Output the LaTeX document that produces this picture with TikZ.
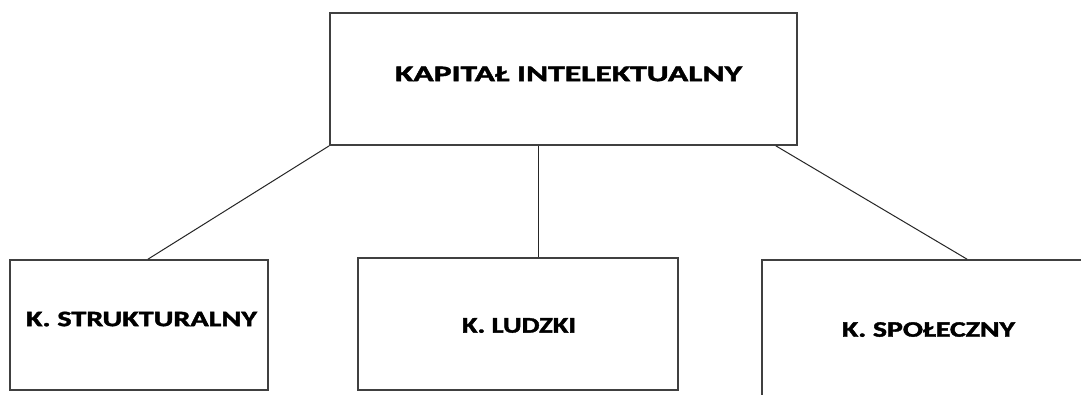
\documentclass[tikz,border=0pt]{standalone}
\usepackage{fontspec}
\usepackage{graphicx}
\setmainfont{Carlito}
\newfontfamily\lblfont{Carlito}[BoldFeatures={FakeBold=1.6}]
% label text: bold, stretched to a given width with a fixed cap height
\newcommand{\boxlabel}[2]{\resizebox{#1}{14.5pt}{\lblfont\bfseries #2}}
\begin{document}
\begin{tikzpicture}[x=1pt,y=-1pt,
  frame/.style={draw=black!75,line width=1.7pt,rectangle,inner sep=0pt},
  link/.style={draw=black!85,line width=1pt},
  lbl/.style={inner sep=0pt,anchor=center}]
\useasboundingbox (0,0) rectangle (1081,394);
\clip (0,0) rectangle (1081,394);
\fill[white] (0,0) rectangle (1081,394);

% boxes
\node[frame,minimum width=467pt,minimum height=132pt] (T) at (563.5,79) {};
\node[frame,minimum width=258pt,minimum height=130pt] (L) at (139,325) {};
\node[frame,minimum width=320pt,minimum height=132pt] (M) at (518,324) {};
\node[frame,minimum width=338pt,minimum height=150pt] (R) at (931,335) {};

% texts
\node[lbl] (tT) at (568.5,74) {\boxlabel{347pt}{KAPITAŁ INTELEKTUALNY}};
\node[lbl] (tL) at (141.5,319) {\boxlabel{231pt}{K. STRUKTURALNY}};
\node[lbl] (tM) at (519,325.5) {\boxlabel{114pt}{K. LUDZKI}};
\node[lbl] (tR) at (928.5,329.5) {\boxlabel{173pt}{K. SPOŁECZNY}};

% connectors
\draw[link] (T.south west) -- ([xshift=9pt]L.north);
\draw[link] ([xshift=-25.5pt]T.south) -- ([xshift=20pt]M.north);
\draw[link] ([xshift=-22pt]T.south east) -- ([xshift=36pt]R.north);
\end{tikzpicture}
\end{document}
